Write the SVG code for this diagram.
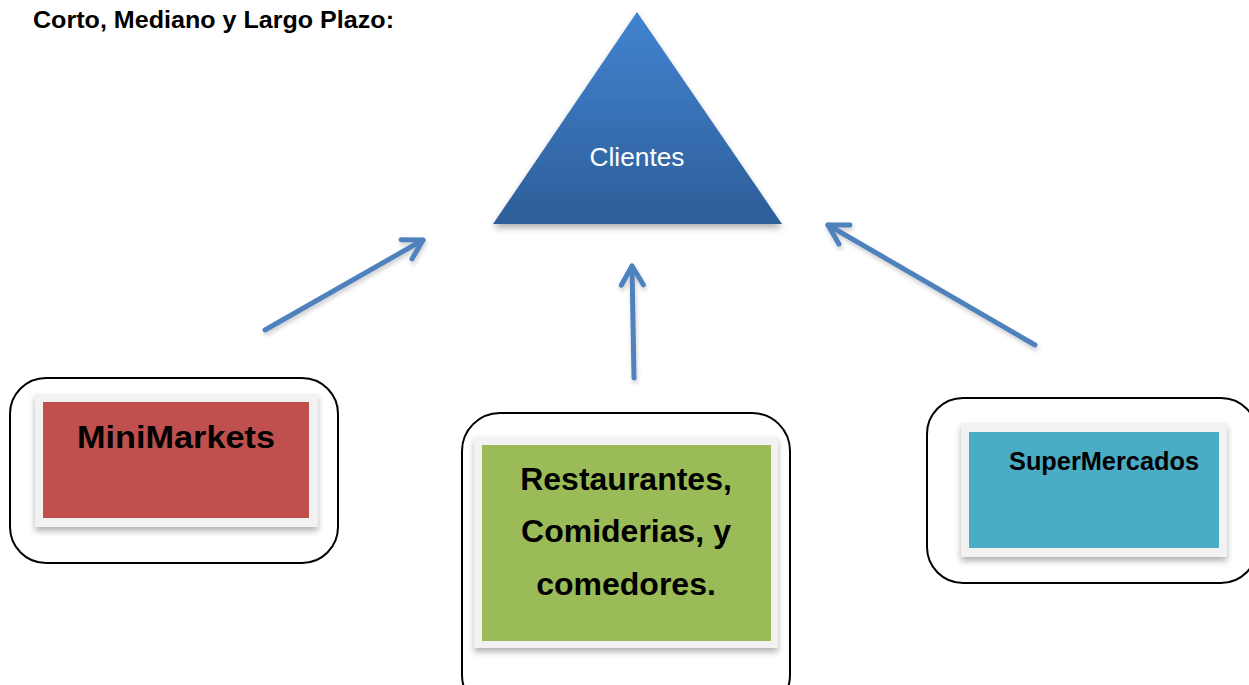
<svg xmlns="http://www.w3.org/2000/svg" width="1249" height="685" viewBox="0 0 1249 685">
<style>
.outer{fill:#ffffff;stroke:#000000;stroke-width:2}
.frame{fill:#f2f2f2;filter:url(#sh)}
.lbl{font-family:"Liberation Sans",Arial,sans-serif;font-weight:bold;fill:#000000;text-anchor:middle}
.conn{stroke:#4f81bd;stroke-width:5;fill:none;stroke-linecap:round}
.head{stroke:#4f81bd;stroke-width:5;fill:none;stroke-linecap:round;stroke-linejoin:round}
</style>
<defs>
<linearGradient id="tg" x1="0" y1="0" x2="0" y2="1">
<stop offset="0" stop-color="#4283d0"/>
<stop offset="1" stop-color="#2d5e99"/>
</linearGradient>
<filter id="sh" x="-10%" y="-10%" width="120%" height="130%">
<feDropShadow dx="0" dy="4" stdDeviation="3" flood-color="#000000" flood-opacity="0.3"/>
</filter>
<filter id="sh2" filterUnits="userSpaceOnUse" x="0" y="0" width="1249" height="685">
<feDropShadow dx="1" dy="3" stdDeviation="2" flood-color="#000000" flood-opacity="0.2"/>
</filter>
<marker id="ah" markerUnits="userSpaceOnUse" orient="auto" refX="0" refY="0" markerWidth="30" markerHeight="30" viewBox="-25 -15 30 30" overflow="visible">
<path class="head" d="M-19,-11 L0,0 L-19,11"/>
</marker>
</defs>
<rect width="1249" height="685" fill="#ffffff"/>
<text x="33" y="28" font-family="'Liberation Sans',Arial,sans-serif" font-weight="bold" font-size="24" textLength="361" lengthAdjust="spacingAndGlyphs">Corto, Mediano y Largo Plazo:</text>
<g id="clientes">
<polygon points="637,12 782,224 493,224" fill="url(#tg)" filter="url(#sh)"/>
<text x="637" y="166" font-family="'Liberation Sans',Arial,sans-serif" font-size="25" fill="#ffffff" text-anchor="middle" textLength="95" lengthAdjust="spacingAndGlyphs">Clientes</text>
</g>
<g id="connectors" filter="url(#sh2)">
<line class="conn" x1="265" y1="330" x2="423" y2="240" marker-end="url(#ah)"/>
<line class="conn" x1="634" y1="378" x2="632" y2="266" marker-end="url(#ah)"/>
<line class="conn" x1="1035" y1="345" x2="828" y2="225" marker-end="url(#ah)"/>
</g>
<g id="minimarkets">
<rect class="outer" x="10" y="378" width="328" height="185" rx="36" ry="36"/>
<rect class="frame" x="35" y="394" width="283" height="133"/>
<rect x="43" y="402" width="266" height="116" fill="#c0504d"/>
<text class="lbl" x="176" y="448" font-size="32" textLength="198" lengthAdjust="spacingAndGlyphs">MiniMarkets</text>
</g>
<g id="restaurantes">
<rect class="outer" x="462" y="413" width="328" height="300" rx="38" ry="38"/>
<rect class="frame" x="474" y="437" width="304" height="211"/>
<rect x="482" y="445" width="289" height="196" fill="#9bbb59"/>
<text class="lbl" x="626" y="490" font-size="32">Restaurantes,</text>
<text class="lbl" x="626" y="542" font-size="32">Comiderias, y</text>
<text class="lbl" x="626" y="595" font-size="32">comedores.</text>
</g>
<g id="supermercados">
<rect class="outer" x="927" y="398" width="330" height="185" rx="36" ry="36"/>
<rect class="frame" x="961" y="423" width="266" height="134"/>
<rect x="969" y="432" width="250" height="116" fill="#4bacc6"/>
<text class="lbl" x="1104" y="470" font-size="25" textLength="190" lengthAdjust="spacingAndGlyphs">SuperMercados</text>
</g>
</svg>
